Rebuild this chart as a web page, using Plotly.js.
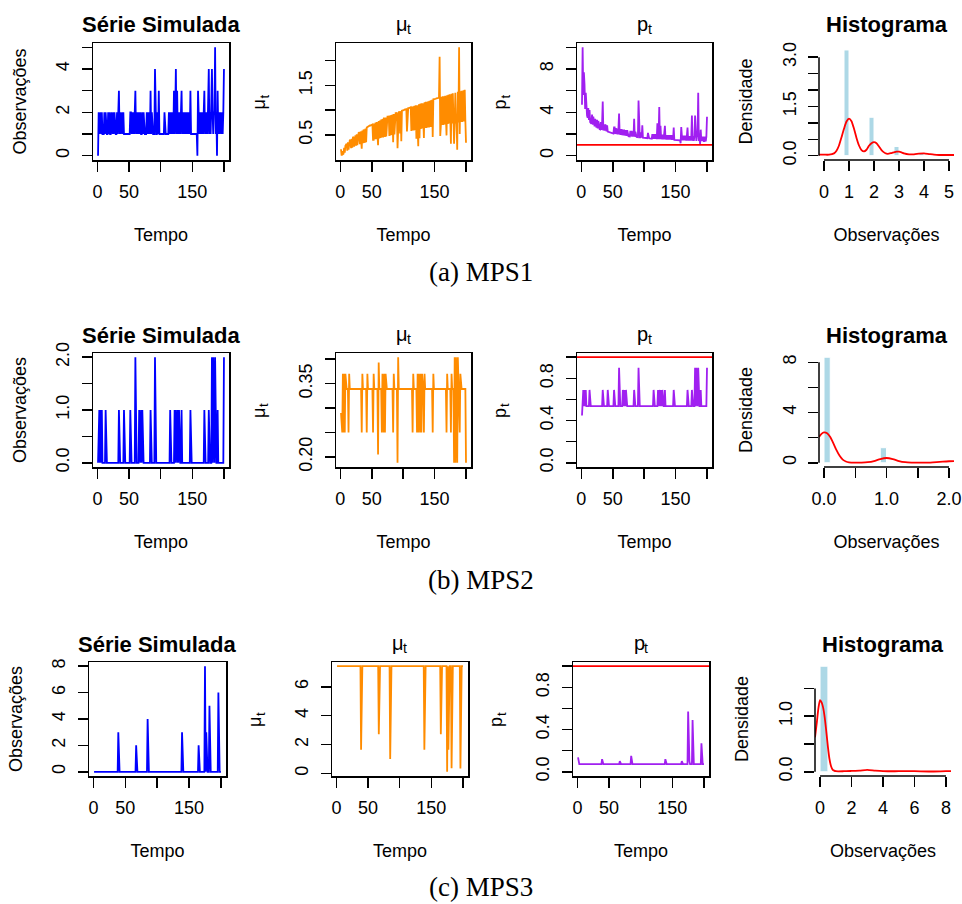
<!DOCTYPE html>
<html>
<head>
<meta charset="utf-8">
<script src="https://cdn.plot.ly/plotly-3.0.1.min.js"></script>
<style>
  html, body { margin: 0; padding: 0; background: #ffffff; }
  #chart { width: 962px; height: 904px; }
</style>
</head>
<body>
<div id="chart"></div>
<script>
// ---------------------------------------------------------------------------
// Simulated series for three models (MPS1, MPS2, MPS3), 200 time steps each.
// ---------------------------------------------------------------------------

const timeTicks = [0, 50, 100, 150, 200];
const timeTickText = ['0', '50', '', '150', ''];

// Simulated counts, one digit per time step (groups of ten)
const obsMPS1 = [
  '0212212111', '2121112121', '1211212111', '2123121221', '2111111111',
  '1221212123', '1212121211', '2121111212', '1213121111', '4111213111',
  '1111121111', '1121212121', '3124131212', '1231212121', '2121213111',
  '1111111032', '1212121231', '2121241212', '4212251203', '1212112124'
].join('').split('').map(Number);

const obsMPS2 = [
  '0110101000', '0010000000', '0000000000', '0001000000', '0100000000',
  '0100000002', '0000010010', '1000000000', '0001000000', '2000000000',
  '0000000000', '0000100000', '0101001010', '0010000000', '0000001000',
  '0000000000', '0000000010', '0000010000', '2020020001', '0000000002'
].join('').split('').map(Number);

const obsMPS3 = [
  '0000000000', '0000000000', '0000000000', '0000000030', '0000000000',
  '0000000000', '0000002000', '0000000000', '0000400000', '0000000000',
  '0000000000', '0000000000', '0000000000', '0000000030', '0000000000',
  '0000000000', '0000200000', '0000803000', '0500000000', '0000060000'
].join('').split('').map(Number);

// mu_t for each model
const muMPS1 = [
  0.21,0.08,0.17,0.11,0.12,0.24,0.14,0.28,0.30,0.32,
  0.18,0.35,0.20,0.37,0.39,0.40,0.23,0.42,0.24,0.45,
  0.46,0.26,0.48,0.49,0.28,0.51,0.29,0.53,0.54,0.55,
  0.31,0.57,0.31,0.22,0.59,0.33,0.61,0.34,0.34,0.63,
  0.35,0.65,0.66,0.66,0.67,0.68,0.69,0.69,0.70,0.71,
  0.71,0.40,0.40,0.73,0.41,0.75,0.41,0.76,0.42,0.29,
  0.78,0.43,0.79,0.44,0.81,0.45,0.82,0.45,0.83,0.84,
  0.46,0.85,0.47,0.86,0.87,0.87,0.88,0.48,0.89,0.49,
  0.90,0.50,0.91,0.35,0.92,0.51,0.93,0.94,0.94,0.95,
  0.23,0.96,0.96,0.97,0.53,0.98,0.37,0.99,0.99,1.00,
  1.00,1.01,1.01,1.02,1.02,0.57,1.03,1.04,1.04,1.05,
  1.05,1.06,0.58,1.07,0.59,1.08,0.59,1.09,0.60,1.10,
  0.42,1.10,0.61,0.27,1.12,0.43,1.13,0.62,1.14,0.63,
  1.14,0.63,0.44,1.16,0.64,1.17,0.64,1.17,0.65,1.18,
  0.65,1.19,0.66,1.20,0.66,1.21,0.46,1.22,1.22,1.22,
  1.23,1.23,1.24,1.24,1.24,1.25,1.25,2.08,0.48,0.69,
  1.27,0.70,1.28,0.70,1.28,0.71,1.29,0.72,0.49,1.30,
  0.72,1.31,0.73,1.32,0.73,0.32,1.33,0.73,1.34,0.74,
  0.32,0.74,1.35,0.75,0.75,0.20,1.37,0.75,2.27,0.52,
  1.38,0.76,1.39,0.76,1.40,1.40,0.77,1.41,0.78,0.34
];

const muMPS2 = [
  0.29,0.25,0.25,0.37,0.25,0.37,0.25,0.37,0.339,0.339,
  0.339,0.339,0.25,0.37,0.339,0.339,0.339,0.339,0.339,0.339,
  0.339,0.339,0.339,0.339,0.339,0.339,0.339,0.339,0.339,0.339,
  0.339,0.339,0.339,0.25,0.37,0.339,0.339,0.339,0.339,0.339,
  0.339,0.25,0.37,0.339,0.339,0.339,0.339,0.339,0.339,0.339,
  0.339,0.25,0.37,0.339,0.339,0.339,0.339,0.339,0.339,0.205,
  0.393,0.339,0.339,0.339,0.339,0.25,0.37,0.339,0.25,0.37,
  0.25,0.37,0.339,0.339,0.339,0.339,0.339,0.339,0.339,0.339,
  0.339,0.339,0.339,0.25,0.37,0.339,0.339,0.339,0.339,0.339,
  0.188,0.404,0.339,0.339,0.339,0.339,0.339,0.339,0.339,0.339,
  0.339,0.339,0.339,0.339,0.339,0.339,0.339,0.339,0.339,0.339,
  0.339,0.339,0.339,0.339,0.25,0.37,0.339,0.339,0.339,0.339,
  0.339,0.25,0.37,0.25,0.37,0.339,0.25,0.37,0.25,0.37,
  0.339,0.339,0.25,0.37,0.339,0.339,0.339,0.339,0.339,0.339,
  0.339,0.339,0.339,0.339,0.339,0.339,0.25,0.37,0.339,0.339,
  0.339,0.339,0.339,0.339,0.339,0.339,0.339,0.339,0.339,0.339,
  0.339,0.339,0.339,0.339,0.339,0.339,0.339,0.339,0.25,0.37,
  0.339,0.339,0.339,0.339,0.339,0.25,0.37,0.339,0.339,0.339,
  0.188,0.404,0.188,0.404,0.339,0.188,0.404,0.339,0.339,0.25,
  0.37,0.339,0.339,0.339,0.339,0.339,0.339,0.339,0.339,0.188
];

const muMPS3 = [
  7.42,7.42,7.42,7.42,7.42,7.42,7.42,7.42,7.42,7.42,
  7.42,7.42,7.42,7.42,7.42,7.42,7.42,7.42,7.42,7.42,
  7.42,7.42,7.42,7.42,7.42,7.42,7.42,7.42,7.42,7.42,
  7.42,7.42,7.42,7.42,7.42,7.42,7.42,7.42,1.65,7.42,
  7.42,7.42,7.42,7.42,7.42,7.42,7.42,7.42,7.42,7.42,
  7.42,7.42,7.42,7.42,7.42,7.42,7.42,7.42,7.42,7.42,
  7.42,7.42,7.42,7.42,7.42,7.42,2.72,7.42,7.42,7.42,
  7.42,7.42,7.42,7.42,7.42,7.42,7.42,7.42,7.42,7.42,
  7.42,7.42,7.42,7.42,1.00,7.42,7.42,7.42,7.42,7.42,
  7.42,7.42,7.42,7.42,7.42,7.42,7.42,7.42,7.42,7.42,
  7.42,7.42,7.42,7.42,7.42,7.42,7.42,7.42,7.42,7.42,
  7.42,7.42,7.42,7.42,7.42,7.42,7.42,7.42,7.42,7.42,
  7.42,7.42,7.42,7.42,7.42,7.42,7.42,7.42,7.42,7.42,
  7.42,7.42,7.42,7.42,7.42,7.42,7.42,7.42,1.65,7.42,
  7.42,7.42,7.42,7.42,7.42,7.42,7.42,7.42,7.42,7.42,
  7.42,7.42,7.42,7.42,7.42,7.42,7.42,7.42,7.42,7.42,
  7.42,7.42,7.42,7.42,2.72,7.42,7.42,7.42,7.42,7.42,
  7.42,7.42,7.42,7.42,0.12,7.42,1.65,7.42,7.42,7.42,
  7.42,0.36,7.42,7.42,7.42,7.42,7.42,7.42,7.42,7.42,
  7.42,7.42,7.42,7.42,7.42,0.35,7.42,7.42,7.42,7.42
];

// p_t for each model
const pMPS1 = [
  4.7,10.0,5.6,7.7,6.6,4.3,5.8,3.9,3.7,3.5,
  4.4,3.3,4.2,3.1,3.0,2.95,3.8,2.85,3.6,2.75,
  2.7,3.4,2.62,2.58,3.3,2.52,3.2,2.47,2.45,2.42,
  3.1,2.38,3.0,5.0,2.33,2.9,2.3,2.85,2.8,2.25,
  2.8,2.22,2.2,2.18,2.16,2.14,2.12,2.1,2.08,2.06,
  2.04,2.6,2.6,2.0,2.55,1.98,2.5,1.96,2.5,3.9,
  1.93,2.45,1.91,2.45,1.89,2.4,1.87,2.4,1.86,1.85,
  2.35,1.83,2.35,1.81,1.8,1.79,1.78,2.3,1.77,2.3,
  1.76,2.25,1.75,3.4,1.74,2.2,1.73,1.72,1.71,1.7,
  5.1,1.69,1.68,1.68,2.15,1.67,2.8,1.66,1.65,1.64,
  1.64,1.63,1.62,1.62,1.61,2.1,1.6,1.6,1.59,1.58,
  1.58,1.57,2.0,1.56,2.0,1.55,2.0,1.54,2.0,1.53,
  3.0,1.53,2.0,4.5,1.52,2.75,1.51,1.95,1.5,1.95,
  1.5,1.95,2.75,1.49,1.9,1.48,1.9,1.48,1.9,1.47,
  1.9,1.47,1.9,1.46,1.9,1.46,2.6,1.45,1.45,1.44,
  1.44,1.44,1.43,1.43,1.43,1.42,1.42,1.15,2.65,1.85,
  1.41,1.85,1.4,1.85,1.4,1.85,1.39,1.85,2.6,1.39,
  1.8,1.38,1.8,1.38,1.8,3.7,1.37,1.8,1.37,1.8,
  3.7,1.8,1.36,1.8,1.8,5.8,1.35,1.8,1.05,2.4,
  1.35,1.75,1.34,1.75,1.34,1.34,1.75,1.33,1.75,3.6
];

const pMPS2 = [
  0.448,0.69,0.69,0.536,0.69,0.536,0.69,0.536,0.536,0.536,
  0.536,0.536,0.69,0.536,0.536,0.536,0.536,0.536,0.536,0.536,
  0.536,0.536,0.536,0.536,0.536,0.536,0.536,0.536,0.536,0.536,
  0.536,0.536,0.536,0.69,0.536,0.536,0.536,0.536,0.536,0.536,
  0.536,0.69,0.536,0.536,0.536,0.536,0.536,0.536,0.536,0.536,
  0.536,0.69,0.536,0.536,0.536,0.536,0.536,0.536,0.536,0.90,
  0.536,0.536,0.536,0.536,0.536,0.69,0.536,0.536,0.69,0.536,
  0.69,0.536,0.536,0.536,0.536,0.536,0.536,0.536,0.536,0.536,
  0.536,0.536,0.536,0.69,0.536,0.536,0.536,0.536,0.536,0.536,
  0.90,0.536,0.536,0.536,0.536,0.536,0.536,0.536,0.536,0.536,
  0.536,0.536,0.536,0.536,0.536,0.536,0.536,0.536,0.536,0.536,
  0.536,0.536,0.536,0.536,0.69,0.536,0.536,0.536,0.536,0.536,
  0.536,0.69,0.536,0.69,0.536,0.536,0.69,0.536,0.69,0.536,
  0.536,0.536,0.69,0.536,0.536,0.536,0.536,0.536,0.536,0.536,
  0.536,0.536,0.536,0.536,0.536,0.536,0.69,0.536,0.536,0.536,
  0.536,0.536,0.536,0.536,0.536,0.536,0.536,0.536,0.536,0.536,
  0.536,0.536,0.536,0.536,0.536,0.536,0.536,0.536,0.69,0.536,
  0.536,0.536,0.536,0.536,0.536,0.69,0.536,0.536,0.536,0.536,
  0.90,0.536,0.90,0.536,0.536,0.90,0.536,0.536,0.536,0.69,
  0.536,0.536,0.536,0.536,0.536,0.536,0.536,0.536,0.536,0.90
];

const pMPS3 = [
  0.136,0.073,0.073,0.073,0.073,0.073,0.073,0.073,0.073,0.073,
  0.073,0.073,0.073,0.073,0.073,0.073,0.073,0.073,0.073,0.073,
  0.073,0.073,0.073,0.073,0.073,0.073,0.073,0.073,0.073,0.073,
  0.073,0.073,0.073,0.073,0.073,0.073,0.073,0.073,0.12,0.073,
  0.073,0.073,0.073,0.073,0.073,0.073,0.073,0.073,0.073,0.073,
  0.073,0.073,0.073,0.073,0.073,0.073,0.073,0.073,0.073,0.073,
  0.073,0.073,0.073,0.073,0.073,0.073,0.10,0.073,0.073,0.073,
  0.073,0.073,0.073,0.073,0.073,0.073,0.073,0.073,0.073,0.073,
  0.073,0.073,0.073,0.073,0.15,0.073,0.073,0.073,0.073,0.073,
  0.073,0.073,0.073,0.073,0.073,0.073,0.073,0.073,0.073,0.073,
  0.073,0.073,0.073,0.073,0.073,0.073,0.073,0.073,0.073,0.073,
  0.073,0.073,0.073,0.073,0.073,0.073,0.073,0.073,0.073,0.073,
  0.073,0.073,0.073,0.073,0.073,0.073,0.073,0.073,0.073,0.073,
  0.073,0.073,0.073,0.073,0.073,0.073,0.073,0.073,0.12,0.073,
  0.073,0.073,0.073,0.073,0.073,0.073,0.073,0.073,0.073,0.073,
  0.073,0.073,0.073,0.073,0.073,0.073,0.073,0.073,0.073,0.073,
  0.073,0.073,0.073,0.073,0.10,0.073,0.073,0.073,0.073,0.073,
  0.073,0.073,0.073,0.073,0.57,0.22,0.10,0.073,0.073,0.073,
  0.073,0.49,0.15,0.073,0.073,0.073,0.073,0.073,0.073,0.073,
  0.073,0.073,0.073,0.073,0.073,0.27,0.073,0.073,0.073,0.073
];

// Reference level drawn on every p_t panel
const pReference = 1;

// Histogram bins (left break, common width) and densities
const histBinsMPS1 = [0.8, 1.8, 2.8, 3.8];
const histWidthMPS1 = 0.2;
const histDensMPS1 = [3.22, 1.17, 0.28, 0.08];

const histBinsMPS2 = [0.0, 0.9];
const histWidthMPS2 = 0.1;
const histDensMPS2 = [8.4, 1.2];

const histBinsMPS3 = [0.0];
const histWidthMPS3 = 0.5;
const histDensMPS3 = [1.9];

// Kernel density curves
const densXMPS1 = [-0.2,0,0.2,0.4,0.5,0.6,0.7,0.8,0.9,1.0,1.1,1.2,1.3,1.4,1.5,1.6,1.7,1.8,1.9,2.0,
                   2.1,2.2,2.3,2.4,2.5,2.6,2.7,2.8,2.9,3.0,3.1,3.2,3.4,3.6,3.8,4.0,4.2,4.4,4.6,4.8,5.0,5.2];
const densYMPS1 = [0.03,0.03,0.03,0.07,0.15,0.31,0.56,0.82,1.04,1.13,1.05,0.82,0.54,0.31,0.17,0.13,0.18,0.30,0.38,0.41,
                   0.38,0.28,0.17,0.10,0.06,0.06,0.08,0.10,0.12,0.12,0.10,0.07,0.04,0.04,0.06,0.07,0.05,0.03,0.02,0.02,0.02,0.02];

const densXMPS2 = [-0.08,-0.04,0,0.05,0.1,0.15,0.2,0.25,0.3,0.35,0.4,0.5,0.6,0.7,0.8,0.9,1.0,1.1,1.2,1.3,1.4,1.5,1.6,1.7,1.8,1.9,2.0,2.08];
const densYMPS2 = [2.05,2.3,2.42,2.35,2.05,1.55,1.0,0.55,0.25,0.1,0.04,0.02,0.02,0.05,0.14,0.3,0.38,0.3,0.14,0.05,0.02,0.01,0.01,0.02,0.05,0.09,0.12,0.13];

const densXMPS3 = [-0.32,-0.2,-0.1,0,0.1,0.2,0.3,0.4,0.5,0.6,0.7,0.8,0.9,1.0,1.5,2.0,2.5,3.0,3.5,4.0,5.0,6.0,7.0,8.0,8.32];
const densYMPS3 = [0.62,0.9,1.15,1.29,1.25,1.15,0.97,0.72,0.45,0.23,0.1,0.04,0.02,0.01,0.01,0.015,0.02,0.035,0.02,0.01,0.01,0.01,0.005,0.01,0.01];

// Axis ticks per model (an empty label means an unlabelled tick)
const ticksMPS1 = {
  obs: [0,1,2,3,4,5], obsText: ['0','','2','','4',''],
  mu: [0.5,1.0,1.5,2.0], muText: ['0.5','','1.5',''],
  p: [0,2,4,6,8,10], pText: ['0','','4','','8',''], pLim: [0, 10],
  hx: [0,1,2,3,4,5], hxText: ['0','1','2','3','4','5'], hxLim: [0, 5],
  hy: [0,0.5,1.0,1.5,2.0,2.5,3.0], hyText: ['0.0','','','1.5','','','3.0'], hyLim: [0, 3.3]
};
const ticksMPS2 = {
  obs: [0,0.5,1.0,1.5,2.0], obsText: ['0.0','','1.0','','2.0'],
  mu: [0.20,0.25,0.30,0.35,0.40], muText: ['0.20','','','0.35',''],
  p: [0,0.2,0.4,0.6,0.8,1.0], pText: ['0.0','','0.4','','0.8',''], pLim: [0, 1],
  hx: [0,0.5,1.0,1.5,2.0], hxText: ['0.0','','1.0','','2.0'], hxLim: [0, 2],
  hy: [0,2,4,6,8], hyText: ['0','','4','','8'], hyLim: [0, 8.4]
};
const ticksMPS3 = {
  obs: [0,2,4,6,8], obsText: ['0','2','4','6','8'],
  mu: [0,2,4,6], muText: ['0','2','4','6'],
  p: [0,0.2,0.4,0.6,0.8,1.0], pText: ['0.0','','0.4','','0.8',''], pLim: [0, 1],
  hx: [0,2,4,6,8], hxText: ['0','2','4','6','8'], hxLim: [0, 8],
  hy: [0,0.5,1.0,1.5], hyText: ['0.0','','1.0',''], hyLim: [0, 1.9]
};

// ---------------------------------------------------------------------------
// Page geometry (pixels) and styling
// ---------------------------------------------------------------------------
const W = 962, H = 904;
const FONT = 'Liberation Sans, Arial, Helvetica, sans-serif';
const SERIF = 'Liberation Serif, Times New Roman, serif';
const COL_OBS = '#0000FF', COL_MU = '#FF8C00', COL_P = '#A020F0', COL_RED = '#FF0000', COL_BAR = '#ADD8E6';
const TICK_LEN = 10, TICK_W = 1.5;
const X_TITLE_GAP = 27, Y_TITLE_GAP = 22;

const rowsPx = [
  { top: 43,  bottom: 160, cols: [[93, 229], [336, 471], [577, 712], [819, 954]], captionY: 272 },
  { top: 353, bottom: 467, cols: [[93, 229], [336, 471], [577, 712], [819, 954]], captionY: 580 },
  { top: 662, bottom: 776, cols: [[89, 226], [332, 468], [573, 709], [815, 951]], captionY: 887 }
];

const models = [
  { caption: '(a) MPS1', obs: obsMPS1, mu: muMPS1, p: pMPS1, ticks: ticksMPS1,
    bins: histBinsMPS1, binW: histWidthMPS1, dens: histDensMPS1, kx: densXMPS1, ky: densYMPS1 },
  { caption: '(b) MPS2', obs: obsMPS2, mu: muMPS2, p: pMPS2, ticks: ticksMPS2,
    bins: histBinsMPS2, binW: histWidthMPS2, dens: histDensMPS2, kx: densXMPS2, ky: densYMPS2 },
  { caption: '(c) MPS3', obs: obsMPS3, mu: muMPS3, p: pMPS3, ticks: ticksMPS3,
    bins: histBinsMPS3, binW: histWidthMPS3, dens: histDensMPS3, kx: densXMPS3, ky: densYMPS3 }
];

// R-style axis padding: 4% on each side of the limits
function padRange(lo, hi) { const d = hi - lo; return [lo - 0.04 * d, hi + 0.04 * d]; }
function minOf(a) { return Math.min.apply(null, a); }
function maxOf(a) { return Math.max.apply(null, a); }

const data = [];
const layout = {
  width: W, height: H,
  margin: { l: 0, r: 0, t: 0, b: 0 },
  paper_bgcolor: '#ffffff', plot_bgcolor: 'rgba(0,0,0,0)',
  showlegend: false, barmode: 'overlay',
  font: { family: FONT, color: '#000000' },
  annotations: [], shapes: []
};

// Labelled ticks become major ticks, unlabelled ones are drawn as minor ticks
function makeAxis(p0, p1, isY, range, tickvals, ticktext, boxed, anchor, titleText) {
  const majV = [], majT = [], minV = [];
  tickvals.forEach(function (v, i) {
    if (ticktext[i]) { majV.push(v); majT.push(ticktext[i]); } else { minV.push(v); }
  });
  const ax = {
    domain: isY ? [1 - p1 / H, 1 - p0 / H] : [p0 / W, p1 / W],
    range: range, autorange: false, anchor: anchor,
    tickmode: 'array', tickvals: majV, ticktext: majT,
    ticks: 'outside', ticklen: TICK_LEN, tickwidth: TICK_W, tickcolor: '#000000',
    showline: boxed, mirror: boxed, linecolor: '#000000', linewidth: 1.5,
    showgrid: false, zeroline: false, automargin: false, fixedrange: true,
    tickangle: isY ? -90 : 0,
    ticklabelstandoff: 5,
    tickfont: { family: FONT, size: 18, color: '#000000' }
  };
  if (titleText) {
    ax.title = { text: titleText, standoff: isY ? Y_TITLE_GAP : X_TITLE_GAP,
                 font: { family: FONT, size: 18, color: '#000000' } };
  }
  if (minV.length) {
    ax.minor = { tickmode: 'array', tickvals: minV, ticks: 'outside',
                 ticklen: TICK_LEN, tickwidth: TICK_W, tickcolor: '#000000', showgrid: false };
  }
  return ax;
}

function addLabel(text, xPx, yPx, extra) {
  layout.annotations.push(Object.assign({
    text: text, x: xPx / W, y: 1 - yPx / H, xref: 'paper', yref: 'paper',
    xanchor: 'center', yanchor: 'middle', showarrow: false,
    font: { family: FONT, size: 18, color: '#000000' }
  }, extra || {}));
}

// A symbol with a subscript t, built from two text pieces (upright or rotated)
function addSubscripted(symbol, xPx, yPx, size, rotated) {
  const subSize = Math.round(size * 0.7);
  if (rotated) {
    addLabel(symbol, xPx, yPx + 3, { textangle: -90, font: { family: FONT, size: size, color: '#000000' } });
    addLabel('t', xPx + 5, yPx - 5, { textangle: -90, font: { family: FONT, size: subSize, color: '#000000' } });
  } else {
    addLabel(symbol, xPx - 2, yPx, { font: { family: FONT, size: size, color: '#000000' } });
    addLabel('t', xPx + 5, yPx + 5, { font: { family: FONT, size: subSize, color: '#000000' } });
  }
}

let n = 0;
models.forEach(function (m, r) {
  const row = rowsPx[r];
  const tk = m.ticks;
  const time = m.obs.map(function (_, i) { return i + 1; });
  const timeRange = padRange(1, time.length);

  const panels = [
    { kind: 'series', y: m.obs, color: COL_OBS, yr: padRange(minOf(m.obs), maxOf(m.obs)),
      yt: tk.obs, ytt: tk.obsText, title: '<b>Série Simulada</b>',
      ylab: 'Observações', xlab: 'Tempo' },
    { kind: 'series', y: m.mu, color: COL_MU, yr: padRange(minOf(m.mu), maxOf(m.mu)),
      yt: tk.mu, ytt: tk.muText, symbol: 'μ', xlab: 'Tempo' },
    { kind: 'series', y: m.p, color: COL_P, yr: padRange(tk.pLim[0], tk.pLim[1]),
      yt: tk.p, ytt: tk.pText, symbol: 'p', xlab: 'Tempo', ref: pReference },
    { kind: 'hist', title: '<b>Histograma</b>', ylab: 'Densidade', xlab: 'Observações' }
  ];

  panels.forEach(function (pn, c) {
    n += 1;
    const sfx = n === 1 ? '' : String(n);
    const xRef = 'x' + sfx, yRef = 'y' + sfx;
    const [x0, x1] = row.cols[c];
    const yTop = row.top, yBot = row.bottom;

    if (pn.kind === 'series') {
      layout['xaxis' + sfx] = makeAxis(x0, x1, false, timeRange, timeTicks, timeTickText, true, yRef, pn.xlab);
      layout['yaxis' + sfx] = makeAxis(yTop, yBot, true, pn.yr, pn.yt, pn.ytt, true, xRef, pn.ylab);
      data.push({
        type: 'scatter', mode: 'lines', x: time, y: pn.y,
        xaxis: xRef, yaxis: yRef, hoverinfo: 'skip',
        line: { color: pn.color, width: 1.8 }
      });
      if (pn.ref !== undefined) {
        layout.shapes.push({
          type: 'line', xref: xRef + ' domain', yref: yRef,
          x0: 0, x1: 1, y0: pn.ref, y1: pn.ref,
          line: { color: COL_RED, width: 1.8 }
        });
      }
    } else {
      layout['xaxis' + sfx] = makeAxis(x0, x1, false, padRange(tk.hxLim[0], tk.hxLim[1]), tk.hx, tk.hxText, false, yRef, pn.xlab);
      layout['yaxis' + sfx] = makeAxis(yTop, yBot, true, padRange(tk.hyLim[0], tk.hyLim[1]), tk.hy, tk.hyText, false, xRef, pn.ylab);
      data.push({
        type: 'bar', x: m.bins.map(function (b) { return b + m.binW / 2; }), y: m.dens,
        width: m.bins.map(function () { return m.binW; }),
        xaxis: xRef, yaxis: yRef, hoverinfo: 'skip',
        marker: { color: COL_BAR, line: { color: '#ffffff', width: 1 } }
      });
      data.push({
        type: 'scatter', mode: 'lines', x: m.kx, y: m.ky,
        xaxis: xRef, yaxis: yRef, hoverinfo: 'skip',
        line: { color: COL_RED, width: 1.8, shape: 'spline', smoothing: 0.6 }
      });
      // Open axes: lines run only between the first and last tick
      layout.shapes.push({
        type: 'line', xref: xRef, yref: yRef + ' domain',
        x0: tk.hx[0], x1: tk.hx[tk.hx.length - 1], y0: 0, y1: 0,
        line: { color: '#000000', width: 1.5 }
      });
      layout.shapes.push({
        type: 'line', xref: xRef + ' domain', yref: yRef,
        x0: 0, x1: 0, y0: tk.hy[0], y1: tk.hy[tk.hy.length - 1],
        line: { color: '#000000', width: 1.5 }
      });
    }

    const cx = (x0 + x1) / 2, cy = (yTop + yBot) / 2;
    if (pn.symbol) {
      addSubscripted(pn.symbol, cx, yTop - 19, 20, false);
      addSubscripted(pn.symbol, x0 - 77, cy, 18, true);
    } else {
      addLabel(pn.title, cx, yTop - 18, { font: { family: FONT, size: 22, color: '#000000' } });
    }
  });

  addLabel(m.caption, 481, row.captionY, { font: { family: SERIF, size: 27, color: '#000000' } });
});

Plotly.newPlot('chart', data, layout, { staticPlot: true, displayModeBar: false });
</script>
</body>
</html>
